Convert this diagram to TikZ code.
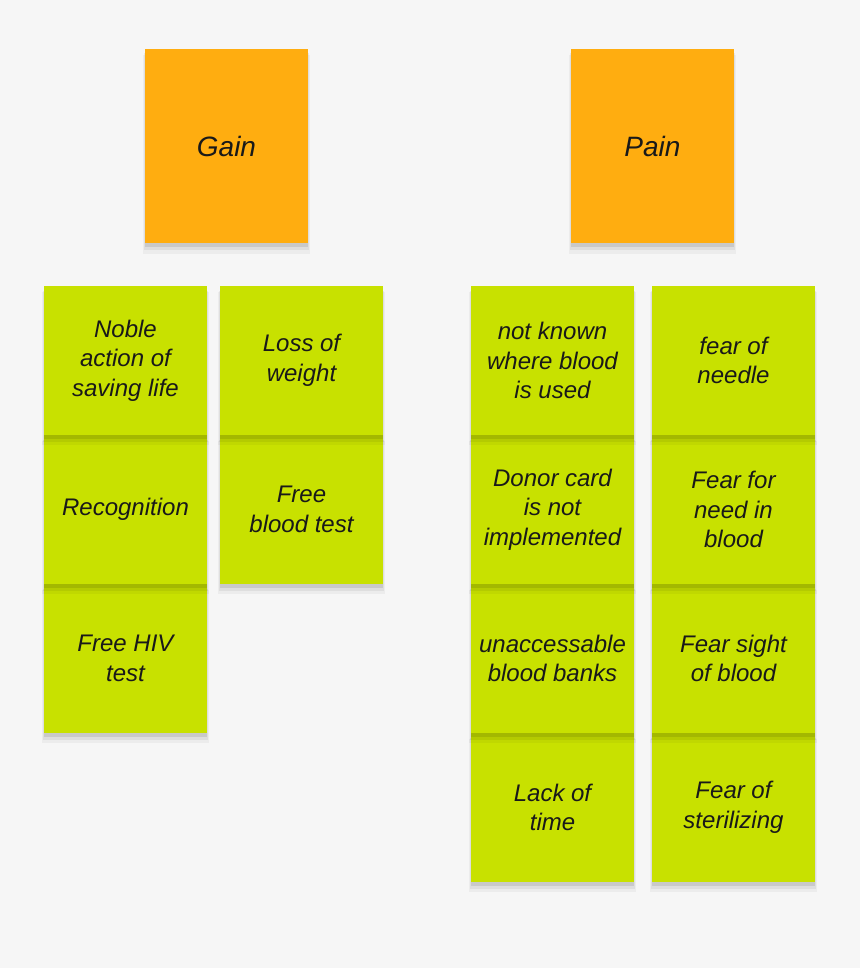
\documentclass[tikz,border=0pt]{standalone}
\usepackage{fontspec}
\setmainfont{Liberation Sans}
\usetikzlibrary{shadows}
\definecolor{boardgray}{HTML}{F6F6F6}
\definecolor{noteorange}{HTML}{FFAD10}
\definecolor{notegreen}{HTML}{C8E100}

\begin{document}
\begin{tikzpicture}[x=0.5pt,y=-0.5pt,
  softshadow/.style={
    drop shadow={shadow xshift=0pt,shadow yshift=-4pt,shadow scale=1.025,opacity=0.04,fill=black},
    drop shadow={shadow xshift=0pt,shadow yshift=-2.8pt,shadow scale=1.015,opacity=0.06,fill=black},
    drop shadow={shadow xshift=0pt,shadow yshift=-1.6pt,shadow scale=1.005,opacity=0.09,fill=black}},
  note/.style={inner sep=0pt,minimum width=81.5pt,align=center,text=black!90,
    font=\fontsize{12}{14.8}\selectfont\itshape,softshadow},
  head/.style={note,fill=noteorange,minimum height=97pt,font=\fontsize{14}{16}\selectfont\itshape},
  card/.style={note,fill=notegreen,minimum height=74.5pt}]
% board
\fill[boardgray] (0,0) rectangle (860,968);
\useasboundingbox (0,0) rectangle (860,968);

% headers
\node[head] (gain) at (226.5,146) {Gain};
\node[head] (pain) at (652.5,146) {Pain};

% pain cards, bottom row first so upper shadows fall on lower cards
\node[card] (time) at (552.5,807.5) {Lack of\\time};
\node[card] (steril) at (733.5,807.5) {Fear of\\sterilizing};
\node[card] (banks) at (552.5,658.5) {unaccessable\\blood banks};
\node[card] (sight) at (733.5,658.5) {Fear sight\\of blood};
\node[card] (donor) at (552.5,509.5) {Donor card\\is not\\implemented};
\node[card] (need) at (733.5,509.5) {Fear for\\need in\\blood};
\node[card] (where) at (552.5,360.5) {not known\\where blood\\is used};
\node[card] (needle) at (733.5,360.5) {fear of\\needle};

% gain cards
\node[card] (hiv) at (125.5,658.5) {Free HIV\\test};
\node[card] (recog) at (125.5,509.5) {Recognition};
\node[card] (bloodtest) at (301.5,509.5) {Free\\blood test};
\node[card] (noble) at (125.5,360.5) {Noble\\action of\\saving life};
\node[card] (weight) at (301.5,360.5) {Loss of\\weight};
\end{tikzpicture}
\end{document}
